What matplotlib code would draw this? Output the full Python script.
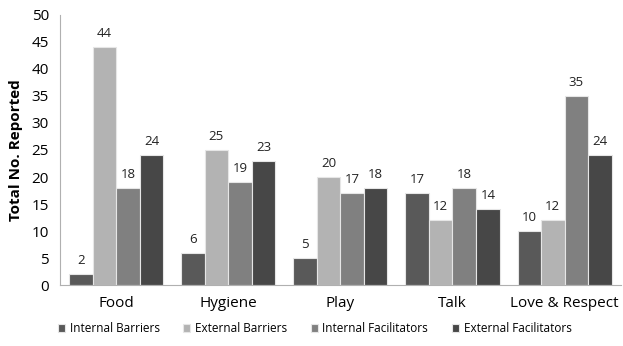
import matplotlib.pyplot as plt
import numpy as np

plt.rcParams['font.family'] = ['Open Sans', 'DejaVu Sans']

categories = ["Food", "Hygiene", "Play", "Talk", "Love & Respect"]
series_names = ["Internal Barriers", "External Barriers",
                "Internal Facilitators", "External Facilitators"]
internal_barriers = [2, 6, 5, 17, 10]
external_barriers = [44, 25, 20, 12, 12]
internal_facilitators = [18, 19, 17, 18, 35]
external_facilitators = [24, 23, 18, 14, 24]
colors = ["#595959", "#b3b3b3", "#808080", "#474747"]

series = [internal_barriers, external_barriers,
          internal_facilitators, external_facilitators]

fig = plt.figure(figsize=(6.23, 3.46), dpi=100)
ax = fig.add_axes([0.0963, 0.176, 0.9, 0.781])

x = np.arange(len(categories))
w = 0.21
for i, (vals, name, c) in enumerate(zip(series, series_names, colors)):
    pos = x + (i - 1.5) * w
    bars = ax.bar(pos, vals, w, color=c, edgecolor="#e6e6e6", linewidth=0.8,
                  label=name)
    for b, v in zip(bars, vals):
        ax.text(b.get_x() + b.get_width() / 2, v + 1.3, str(v),
                ha="center", va="bottom", fontsize=9.5, color="#222222")

ax.set_xlim(-0.5, len(categories) - 0.5)
ax.set_ylim(0, 50)
ax.set_yticks(range(0, 51, 5))
ax.set_xticks(x)
ax.set_xticklabels(categories, fontsize=11)
ax.tick_params(axis="y", labelsize=11, length=0, pad=8)
ax.tick_params(axis="x", length=0, pad=8)
ax.set_ylabel("Total No. Reported", fontsize=11, fontweight="bold", labelpad=6)
for s in ["top", "right"]:
    ax.spines[s].set_visible(False)
for s in ["left", "bottom"]:
    ax.spines[s].set_color("#b0b0b0")

leg = fig.legend(loc="lower center", ncol=4, frameon=False, fontsize=8.5,
                 bbox_to_anchor=(0.505, 0.0), handlelength=0.6, handleheight=0.6,
                 columnspacing=2.0, handletextpad=0.4)

fig.savefig("out.png", dpi=100)
